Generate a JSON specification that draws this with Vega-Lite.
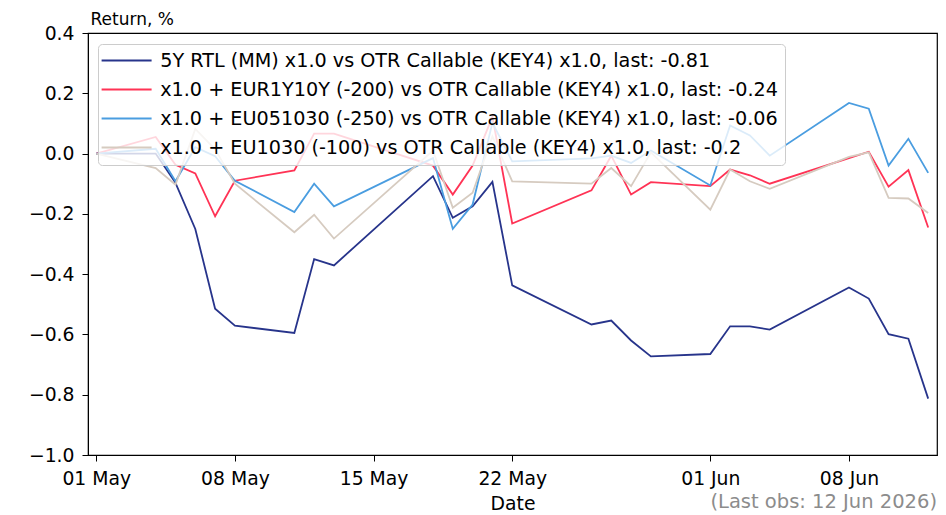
{
  "$schema": "https://vega.github.io/schema/vega-lite/v6.json",
  "width": 849,
  "height": 422,
  "autosize": {"type": "none"},
  "padding": {"left": 88, "top": 33, "right": 9, "bottom": 60},
  "background": "white",
  "config": {
    "font": "DejaVu Sans",
    "view": {"stroke": "black", "strokeWidth": 1.2},
    "axis": {
      "grid": false,
      "domainColor": "black",
      "tickColor": "black",
      "tickSize": 6,
      "labelColor": "black",
      "labelFontSize": 18.8,
      "titleColor": "black",
      "titleFontSize": 18.8,
      "titleFontWeight": "normal"
    }
  },
  "title": {
    "text": "(Last obs: 12 Jun 2026)",
    "orient": "bottom",
    "anchor": "end",
    "color": "#8c8c8c",
    "fontSize": 19.5,
    "fontWeight": "normal",
    "offset": -21
  },
  "datasets": {
    "ret": [
      {"date": "2026-05-01", "series": "5Y RTL (MM)", "value": 0},
      {"date": "2026-05-04", "series": "5Y RTL (MM)", "value": 0},
      {"date": "2026-05-05", "series": "5Y RTL (MM)", "value": -0.097},
      {"date": "2026-05-06", "series": "5Y RTL (MM)", "value": -0.25},
      {"date": "2026-05-07", "series": "5Y RTL (MM)", "value": -0.515},
      {"date": "2026-05-08", "series": "5Y RTL (MM)", "value": -0.571},
      {"date": "2026-05-11", "series": "5Y RTL (MM)", "value": -0.595},
      {"date": "2026-05-12", "series": "5Y RTL (MM)", "value": -0.35},
      {"date": "2026-05-13", "series": "5Y RTL (MM)", "value": -0.371},
      {"date": "2026-05-18", "series": "5Y RTL (MM)", "value": -0.075},
      {"date": "2026-05-19", "series": "5Y RTL (MM)", "value": -0.213},
      {"date": "2026-05-20", "series": "5Y RTL (MM)", "value": -0.175},
      {"date": "2026-05-21", "series": "5Y RTL (MM)", "value": -0.094},
      {"date": "2026-05-22", "series": "5Y RTL (MM)", "value": -0.437},
      {"date": "2026-05-26", "series": "5Y RTL (MM)", "value": -0.567},
      {"date": "2026-05-27", "series": "5Y RTL (MM)", "value": -0.554},
      {"date": "2026-05-28", "series": "5Y RTL (MM)", "value": -0.62},
      {"date": "2026-05-29", "series": "5Y RTL (MM)", "value": -0.673},
      {"date": "2026-06-01", "series": "5Y RTL (MM)", "value": -0.665},
      {"date": "2026-06-02", "series": "5Y RTL (MM)", "value": -0.573},
      {"date": "2026-06-03", "series": "5Y RTL (MM)", "value": -0.573},
      {"date": "2026-06-04", "series": "5Y RTL (MM)", "value": -0.584},
      {"date": "2026-06-08", "series": "5Y RTL (MM)", "value": -0.444},
      {"date": "2026-06-09", "series": "5Y RTL (MM)", "value": -0.481},
      {"date": "2026-06-10", "series": "5Y RTL (MM)", "value": -0.599},
      {"date": "2026-06-11", "series": "5Y RTL (MM)", "value": -0.614},
      {"date": "2026-06-12", "series": "5Y RTL (MM)", "value": -0.813},

      {"date": "2026-05-01", "series": "EUR1Y10Y", "value": 0},
      {"date": "2026-05-04", "series": "EUR1Y10Y", "value": 0.055},
      {"date": "2026-05-05", "series": "EUR1Y10Y", "value": -0.037},
      {"date": "2026-05-06", "series": "EUR1Y10Y", "value": -0.066},
      {"date": "2026-05-07", "series": "EUR1Y10Y", "value": -0.208},
      {"date": "2026-05-08", "series": "EUR1Y10Y", "value": -0.09},
      {"date": "2026-05-11", "series": "EUR1Y10Y", "value": -0.056},
      {"date": "2026-05-12", "series": "EUR1Y10Y", "value": 0.066},
      {"date": "2026-05-13", "series": "EUR1Y10Y", "value": 0.066},
      {"date": "2026-05-18", "series": "EUR1Y10Y", "value": -0.04},
      {"date": "2026-05-19", "series": "EUR1Y10Y", "value": -0.136},
      {"date": "2026-05-20", "series": "EUR1Y10Y", "value": -0.04},
      {"date": "2026-05-21", "series": "EUR1Y10Y", "value": 0.122},
      {"date": "2026-05-22", "series": "EUR1Y10Y", "value": -0.232},
      {"date": "2026-05-26", "series": "EUR1Y10Y", "value": -0.122},
      {"date": "2026-05-27", "series": "EUR1Y10Y", "value": -0.007},
      {"date": "2026-05-28", "series": "EUR1Y10Y", "value": -0.136},
      {"date": "2026-05-29", "series": "EUR1Y10Y", "value": -0.095},
      {"date": "2026-06-01", "series": "EUR1Y10Y", "value": -0.108},
      {"date": "2026-06-02", "series": "EUR1Y10Y", "value": -0.053},
      {"date": "2026-06-03", "series": "EUR1Y10Y", "value": -0.072},
      {"date": "2026-06-04", "series": "EUR1Y10Y", "value": -0.1},
      {"date": "2026-06-08", "series": "EUR1Y10Y", "value": -0.015},
      {"date": "2026-06-09", "series": "EUR1Y10Y", "value": 0.006},
      {"date": "2026-06-10", "series": "EUR1Y10Y", "value": -0.11},
      {"date": "2026-06-11", "series": "EUR1Y10Y", "value": -0.055},
      {"date": "2026-06-12", "series": "EUR1Y10Y", "value": -0.245},

      {"date": "2026-05-01", "series": "EU051030", "value": 0},
      {"date": "2026-05-04", "series": "EU051030", "value": 0.016},
      {"date": "2026-05-05", "series": "EU051030", "value": -0.092},
      {"date": "2026-05-06", "series": "EU051030", "value": 0.021},
      {"date": "2026-05-07", "series": "EU051030", "value": -0.009},
      {"date": "2026-05-08", "series": "EU051030", "value": -0.09},
      {"date": "2026-05-11", "series": "EU051030", "value": -0.194},
      {"date": "2026-05-12", "series": "EU051030", "value": -0.1},
      {"date": "2026-05-13", "series": "EU051030", "value": -0.175},
      {"date": "2026-05-18", "series": "EU051030", "value": -0.015},
      {"date": "2026-05-19", "series": "EU051030", "value": -0.25},
      {"date": "2026-05-20", "series": "EU051030", "value": -0.169},
      {"date": "2026-05-21", "series": "EU051030", "value": 0.102},
      {"date": "2026-05-22", "series": "EU051030", "value": -0.026},
      {"date": "2026-05-26", "series": "EU051030", "value": -0.016},
      {"date": "2026-05-27", "series": "EU051030", "value": -0.007},
      {"date": "2026-05-28", "series": "EU051030", "value": -0.031},
      {"date": "2026-05-29", "series": "EU051030", "value": 0.01},
      {"date": "2026-06-01", "series": "EU051030", "value": -0.106},
      {"date": "2026-06-02", "series": "EU051030", "value": 0.093},
      {"date": "2026-06-03", "series": "EU051030", "value": 0.06},
      {"date": "2026-06-04", "series": "EU051030", "value": -0.007},
      {"date": "2026-06-08", "series": "EU051030", "value": 0.168},
      {"date": "2026-06-09", "series": "EU051030", "value": 0.149},
      {"date": "2026-06-10", "series": "EU051030", "value": -0.04},
      {"date": "2026-06-11", "series": "EU051030", "value": 0.049},
      {"date": "2026-06-12", "series": "EU051030", "value": -0.064},

      {"date": "2026-05-01", "series": "EU1030", "value": 0},
      {"date": "2026-05-04", "series": "EU1030", "value": -0.048},
      {"date": "2026-05-05", "series": "EU1030", "value": -0.103},
      {"date": "2026-05-06", "series": "EU1030", "value": 0.082},
      {"date": "2026-05-07", "series": "EU1030", "value": 0.014},
      {"date": "2026-05-08", "series": "EU1030", "value": -0.1},
      {"date": "2026-05-11", "series": "EU1030", "value": -0.261},
      {"date": "2026-05-12", "series": "EU1030", "value": -0.203},
      {"date": "2026-05-13", "series": "EU1030", "value": -0.282},
      {"date": "2026-05-18", "series": "EU1030", "value": 0.01},
      {"date": "2026-05-19", "series": "EU1030", "value": -0.18},
      {"date": "2026-05-20", "series": "EU1030", "value": -0.13},
      {"date": "2026-05-21", "series": "EU1030", "value": 0.057},
      {"date": "2026-05-22", "series": "EU1030", "value": -0.092},
      {"date": "2026-05-26", "series": "EU1030", "value": -0.1},
      {"date": "2026-05-27", "series": "EU1030", "value": -0.048},
      {"date": "2026-05-28", "series": "EU1030", "value": -0.108},
      {"date": "2026-05-29", "series": "EU1030", "value": 0.004},
      {"date": "2026-06-01", "series": "EU1030", "value": -0.186},
      {"date": "2026-06-02", "series": "EU1030", "value": -0.053},
      {"date": "2026-06-03", "series": "EU1030", "value": -0.092},
      {"date": "2026-06-04", "series": "EU1030", "value": -0.117},
      {"date": "2026-06-08", "series": "EU1030", "value": -0.011},
      {"date": "2026-06-09", "series": "EU1030", "value": 0.004},
      {"date": "2026-06-10", "series": "EU1030", "value": -0.147},
      {"date": "2026-06-11", "series": "EU1030", "value": -0.149},
      {"date": "2026-06-12", "series": "EU1030", "value": -0.197}
    ]
  },
  "data": {"name": "ret"},
  "encoding": {
    "x": {
      "field": "date",
      "type": "temporal",
      "scale": {
        "type": "utc",
        "domain": [
          {"year": 2026, "month": 4, "date": 30, "hours": 14, "utc": true},
          {"year": 2026, "month": 6, "date": 12, "hours": 10, "minutes": 40, "utc": true}
        ]
      },
      "axis": {
        "title": "Date",
        "format": "%d %b",
        "labelPadding": 8,
        "titlePadding": 7,
        "labelFlush": false,
        "labelOverlap": false,
        "values": [
          {"year": 2026, "month": 5, "date": 1, "utc": true},
          {"year": 2026, "month": 5, "date": 8, "utc": true},
          {"year": 2026, "month": 5, "date": 15, "utc": true},
          {"year": 2026, "month": 5, "date": 22, "utc": true},
          {"year": 2026, "month": 6, "date": 1, "utc": true},
          {"year": 2026, "month": 6, "date": 8, "utc": true}
        ]
      }
    },
    "y": {
      "field": "value",
      "type": "quantitative",
      "scale": {"domain": [-1, 0.4], "nice": false, "zero": false},
      "axis": {
        "title": "Return, %",
        "titleFontSize": 17,
        "titleAngle": 0,
        "titleAlign": "left",
        "titleBaseline": "alphabetic",
        "titleX": 2,
        "titleY": -9,
        "format": ".1f",
        "labelPadding": 8,
        "values": [-1, -0.8, -0.6, -0.4, -0.2, 0, 0.2, 0.4]
      }
    }
  },
  "layer": [
    {
      "mark": {"type": "line", "strokeWidth": 1.8},
      "encoding": {
        "color": {
          "field": "series",
          "type": "nominal",
          "scale": {
            "domain": ["5Y RTL (MM)", "EUR1Y10Y", "EU051030", "EU1030"],
            "range": ["#27348b", "#ff3355", "#4a9de0", "#d6cbc0"]
          },
          "legend": {
            "title": null,
            "orient": "none",
            "legendX": 10,
            "legendY": 11,
            "symbolType": "M-2.6,0H7.4",
            "symbolSize": 100,
            "symbolStrokeWidth": 2,
            "labelFontSize": 19.2,
            "labelColor": "black",
            "labelLimit": 1000,
            "labelOffset": 36,
            "rowPadding": 9,
            "padding": 7,
            "fillColor": "rgba(255,255,255,0.8)",
            "strokeColor": "#cccccc",
            "cornerRadius": 4,
            "labelExpr": "{'5Y RTL (MM)': '5Y RTL (MM) x1.0 vs OTR Callable (KEY4) x1.0, last: -0.81', 'EUR1Y10Y': '\u00a0x1.0 + EUR1Y10Y (-200) vs OTR Callable (KEY4) x1.0, last: -0.24', 'EU051030': '\u00a0x1.0 + EU051030 (-250) vs OTR Callable (KEY4) x1.0, last: -0.06', 'EU1030': '\u00a0x1.0 + EU1030 (-100) vs OTR Callable (KEY4) x1.0, last: -0.2'}[datum.label]"
          }
        }
      }
    },
    {
      "mark": {"type": "rule", "color": "#555555", "strokeWidth": 1.2},
      "encoding": {"y": {"datum": 0}}
    }
  ]
}
